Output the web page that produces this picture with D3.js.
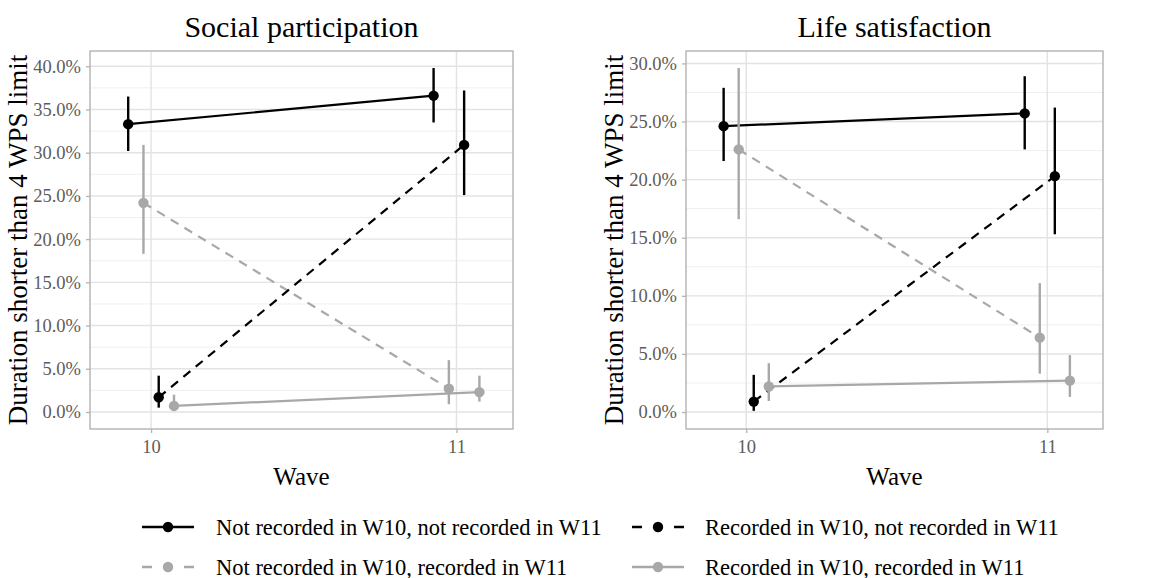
<!DOCTYPE html>
<html>
<head>
<meta charset="utf-8">
<script src="https://cdn.jsdelivr.net/npm/d3@7"></script>
<style>
  body { margin: 0; background: #fff; }
  svg { display: block; }
  text { font-family: "Liberation Serif", "DejaVu Serif", serif; }
</style>
</head>
<body>
<svg id="chart" width="1171" height="578"></svg>
<script>
// Waves and the four recording-pattern groups
const waves = [10, 11];
const groups = [
  "Not recorded in W10, not recorded in W11",
  "Not recorded in W10, recorded in W11",
  "Recorded in W10, not recorded in W11",
  "Recorded in W10, recorded in W11"
];
const groupColors = ["#000000", "#a8a8a8", "#000000", "#a8a8a8"];
const groupDashes = [null, "9,7", "9,7", null];
const dodgeOffsets = [-0.075, -0.025, 0.025, 0.075];

// Social participation: share (%) with interval bounds, per group, waves 10 and 11
const socialEst = [[33.3, 36.6], [24.2, 2.7], [1.7, 30.9], [0.7, 2.3]];
const socialLow = [[30.2, 33.5], [18.3, 0.9], [0.5, 25.1], [0.1, 1.2]];
const socialHigh = [[36.5, 39.8], [30.9, 6.0], [4.2, 37.2], [2.0, 4.2]];

// Life satisfaction
const lifeEst = [[24.6, 25.7], [22.6, 6.4], [0.9, 20.3], [2.2, 2.7]];
const lifeLow = [[21.6, 22.6], [16.6, 3.3], [0.1, 15.3], [0.95, 1.3]];
const lifeHigh = [[27.9, 28.9], [29.6, 11.1], [3.2, 26.2], [4.2, 4.9]];

const socialTicks = [0, 5, 10, 15, 20, 25, 30, 35, 40];
const lifeTicks = [0, 5, 10, 15, 20, 25, 30];

const panels = [
  { title: "Social participation", est: socialEst, low: socialLow, high: socialHigh,
    ticks: socialTicks, box: { x0: 90, x1: 513, y0: 51, y1: 429 },
    yDomain: [-1.97, 41.77], yTitleX: 27 },
  { title: "Life satisfaction", est: lifeEst, low: lifeLow, high: lifeHigh,
    ticks: lifeTicks, box: { x0: 686, x1: 1103, y0: 51, y1: 429 },
    yDomain: [-1.46, 31.07], yTitleX: 623 }
];

const svg = d3.select("#chart");
const fmt = d => d3.format(".1f")(d) + "%";

panels.forEach(p => {
  const b = p.box;
  const x = d3.scaleLinear().domain([9.8, 11.185]).range([b.x0, b.x1]);
  const y = d3.scaleLinear().domain(p.yDomain).range([b.y1, b.y0]);
  const g = svg.append("g");

  // minor grid
  const minor = d3.range(p.ticks.length - 1).map(i => (p.ticks[i] + p.ticks[i + 1]) / 2);
  g.selectAll(".minor").data(minor).join("line")
    .attr("x1", b.x0).attr("x2", b.x1)
    .attr("y1", d => y(d)).attr("y2", d => y(d))
    .attr("stroke", "#efefef").attr("stroke-width", 1);
  // major grid
  g.selectAll(".major").data(p.ticks).join("line")
    .attr("x1", b.x0).attr("x2", b.x1)
    .attr("y1", d => y(d)).attr("y2", d => y(d))
    .attr("stroke", "#e3e3e3").attr("stroke-width", 1.4);
  g.selectAll(".vmajor").data(waves).join("line")
    .attr("x1", d => x(d)).attr("x2", d => x(d))
    .attr("y1", b.y0).attr("y2", b.y1)
    .attr("stroke", "#e3e3e3").attr("stroke-width", 1.4);

  // y axis (ticks + labels)
  const yAxis = d3.axisLeft(y).tickValues(p.ticks).tickFormat(fmt).tickSize(4).tickPadding(5);
  const ya = g.append("g").attr("transform", `translate(${b.x0},0)`).call(yAxis);
  ya.select(".domain").remove();
  ya.selectAll(".tick line").attr("stroke", "#b3b3b3").attr("stroke-width", 1.3);
  ya.selectAll(".tick text").attr("fill", "#5c5c5c")
    .style("font-family", '"Liberation Serif", serif').style("font-size", "18.5px");

  // x axis
  const xAxis = d3.axisBottom(x).tickValues(waves).tickFormat(d3.format("d")).tickSize(4).tickPadding(7);
  const xa = g.append("g").attr("transform", `translate(0,${b.y1})`).call(xAxis);
  xa.select(".domain").remove();
  xa.selectAll(".tick line").attr("stroke", "#b3b3b3").attr("stroke-width", 1.3);
  xa.selectAll(".tick text").attr("fill", "#5c5c5c")
    .style("font-family", '"Liberation Serif", serif').style("font-size", "18.5px");

  // series lines
  groups.forEach((grp, gi) => {
    const pts = waves.map((w, wi) => ({ x: w + dodgeOffsets[gi], v: p.est[gi][wi] }));
    g.append("path")
      .datum(pts)
      .attr("d", d3.line().x(d => x(d.x)).y(d => y(d.v)))
      .attr("fill", "none")
      .attr("stroke", groupColors[gi])
      .attr("stroke-width", 2.2)
      .attr("stroke-dasharray", groupDashes[gi]);
  });

  // intervals and points
  groups.forEach((grp, gi) => {
    waves.forEach((w, wi) => {
      const cx = x(w + dodgeOffsets[gi]);
      g.append("line")
        .attr("x1", cx).attr("x2", cx)
        .attr("y1", y(p.low[gi][wi])).attr("y2", y(p.high[gi][wi]))
        .attr("stroke", groupColors[gi]).attr("stroke-width", 2.4);
      g.append("circle")
        .attr("cx", cx).attr("cy", y(p.est[gi][wi])).attr("r", 5.2)
        .attr("fill", groupColors[gi]);
    });
  });

  // panel border
  g.append("rect")
    .attr("x", b.x0).attr("y", b.y0)
    .attr("width", b.x1 - b.x0).attr("height", b.y1 - b.y0)
    .attr("fill", "none").attr("stroke", "#b3b3b3").attr("stroke-width", 1.4);

  // titles
  const cx = (b.x0 + b.x1) / 2;
  g.append("text").attr("x", cx).attr("y", 37).attr("text-anchor", "middle")
    .style("font-size", "30px").attr("fill", "#000").text(p.title);
  g.append("text").attr("x", cx).attr("y", 485).attr("text-anchor", "middle")
    .style("font-size", "25px").attr("fill", "#000").text("Wave");
  g.append("text")
    .attr("transform", `translate(${p.yTitleX},${(b.y0 + b.y1) / 2}) rotate(-90)`)
    .attr("text-anchor", "middle")
    .style("font-size", "27px").attr("fill", "#000")
    .text("Duration shorter than 4 WPS limit");
});

// legend: two rows, two columns
const legendPos = [
  { kx: 142, tx: 216, y: 527 },
  { kx: 142, tx: 216, y: 567 },
  { kx: 632, tx: 705, y: 527 },
  { kx: 632, tx: 705, y: 567 }
];
const keyW = 52;
const lg = svg.append("g");
groups.forEach((grp, gi) => {
  const pos = legendPos[gi];
  lg.append("line")
    .attr("x1", pos.kx).attr("x2", pos.kx + keyW)
    .attr("y1", pos.y).attr("y2", pos.y)
    .attr("stroke", groupColors[gi]).attr("stroke-width", 2.4)
    .attr("stroke-dasharray", groupDashes[gi] ? "10,11" : null);
  lg.append("circle")
    .attr("cx", pos.kx + keyW / 2).attr("cy", pos.y).attr("r", 5.2)
    .attr("fill", groupColors[gi]);
  lg.append("text")
    .attr("x", pos.tx).attr("y", pos.y + 7.5)
    .style("font-size", "22.5px").attr("fill", "#000")
    .text(grp);
});
</script>
</body>
</html>
